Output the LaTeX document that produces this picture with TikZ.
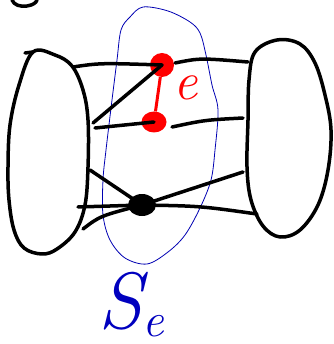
\documentclass[tikz,border=0pt]{standalone}
\usetikzlibrary{shapes.geometric}
\begin{document}
\begin{tikzpicture}[x=1pt,y=-1pt,
  pen/.style={line width=3.5pt,line cap=round,line join=round,black},
  bluepen/.style={line width=0.8pt,blue!70!black},
  reddot/.style={circle,fill=red,inner sep=0pt},
  blackdot/.style={ellipse,fill=black,inner sep=0pt,minimum width=28pt,minimum height=22pt}]
\useasboundingbox (0,0) rectangle (333,344);
% partial letter at top left
\draw[pen] (12,0) .. controls (14,5) and (20,7) .. (27,6) .. controls (33,5) and (36,3) .. (37,0);
% left blob
\draw[pen] (25,53) -- (33,52);
\draw[pen] plot[smooth cycle,tension=0.6] coordinates {(33,52) (55,55) (72,66) (83,90) (88,120) (88,167) (85,205) (75,232) (57,249) (42,254) (24,248) (14,230) (9,200) (8,167) (10,125) (19,85)};
% right blob
\draw[pen] plot[smooth cycle,tension=0.6] coordinates {(277,40) (300,44) (315,63) (325,95) (331,130) (328,170) (318,205) (300,230) (280,237) (263,226) (251,200) (247,167) (248,120) (249,80) (255,52)};
% blue set
\draw[bluepen] plot[smooth cycle,tension=0.55] coordinates {(143,7) (168,11) (190,22) (200,33) (206,55) (212,85) (218,110) (215,150) (211,180) (200,208) (185,235) (168,252) (147,264) (125,258) (110,240) (103,215) (103,180) (106,150) (112,100) (117,60) (121,30) (130,17)};
% nodes
\node[reddot,minimum size=24pt] (u) at (162,65) {};
\node[reddot,minimum width=25pt,minimum height=21pt,ellipse] (w) at (154,122) {};
\node[blackdot] (b) at (142,205) {};
% coordinates
\coordinate (a1) at (73,67);
\coordinate (a2) at (93,123);
\coordinate (a3) at (95,128);
\coordinate (a4) at (90,170);
\coordinate (a5) at (78,207);
\coordinate (a6) at (83,229);
\coordinate (c1) at (175,63);
\coordinate (c2) at (248,62);
\coordinate (c3) at (172,127);
\coordinate (c4) at (243,118);
\coordinate (c5) at (243,172);
\coordinate (c6) at (257,214);
% black edges
\draw[pen] (a1) .. controls (100,63) .. (u.center);
\draw[pen] (c1) .. controls (200,58) .. (c2);
\draw[pen] (a2) -- (u.center);
\draw[pen] (a3) -- (w.center);
\draw[pen] (c3) .. controls (205,120) .. (c4);
\draw[pen] (a4) -- (b.center);
\draw[pen] (a5) -- (b.center);
\draw[pen] (a6) .. controls (100,216) .. (b.center);
\draw[pen] (b.center) -- (c5);
\draw[pen] (b.center) .. controls (200,206) .. (c6);
% red edge
\draw[red,line width=3pt] (u) -- (w);
\node[red,font=\fontsize{54}{54}\selectfont\itshape] (le) at (186,88) {e};
% label
\node[blue!75!black,font=\fontsize{80}{80}\selectfont\itshape,inner sep=0pt,anchor=base west] (ls) at (98,328) {S\raisebox{-8pt}{\fontsize{48}{48}\selectfont e}};
\end{tikzpicture}
\end{document}
